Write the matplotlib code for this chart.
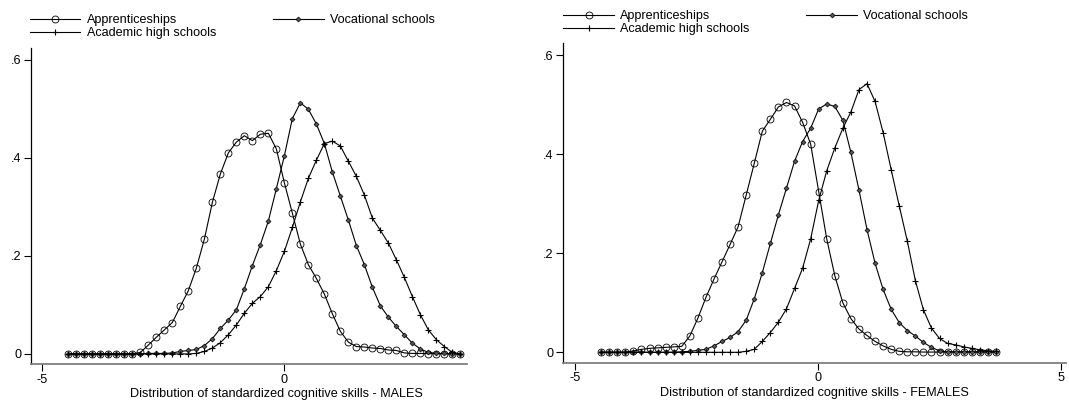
import matplotlib.pyplot as plt
import numpy as np

# kdensity grids (50 points each)
x_males = np.linspace(-4.45, 3.63, 50)
x_females = np.linspace(-4.47, 3.66, 50)

appr_males = [0, 0, 0, 0, 0, 0, 0, 0, 0,
              .003, .018, .034, .049, .064, .097, .129, .175, .234, .309, .367,
              .410, .432, .445, .435, .448, .450, .418, .349, .287, .224, .182,
              .154, .122, .082, .046, .024, .015, .014, .012, .011, .008, .007,
              .002, .001, .001, .0005, .0005, 0, 0, 0]
voc_males = [0, 0, 0, 0, 0, 0, 0, 0, 0, 0,
             .001, .001, .001, .002, .005, .007, .009, .017, .031, .052, .069,
             .090, .133, .180, .223, .271, .337, .404, .480, .512, .499, .469,
             .429, .371, .322, .273, .221, .182, .136, .098, .075, .056, .039,
             .022, .010, .003, .001, .001, .0005, 0]
acad_males = [0, 0, 0, 0, 0, 0, 0, 0, 0, 0, 0, 0, 0, 0, 0, 0,
              .001, .005, .012, .023, .039, .059, .083, .103, .117, .137, .170,
              .209, .258, .310, .358, .395, .429, .434, .424, .393, .362, .324,
              .277, .252, .226, .192, .156, .117, .080, .049, .029, .015, .003, 0]

appr_females = [0, 0, 0, 0,
                .003, .006, .008, .009, .010, .011, .012, .033, .069, .111, .148,
                .183, .218, .254, .318, .382, .447, .471, .496, .505, .498, .465,
                .421, .325, .229, .155, .100, .068, .047, .034, .022, .013, .006,
                .002, .001, .001, .0005, .0005, .0005, .0005, .0005, .0005,
                .0005, .0005, .0005, .0005]
voc_females = [0, 0, 0, 0, 0, 0, 0, 0, 0, 0,
               .001, .002, .004, .006, .013, .022, .030, .042, .065, .108, .161,
               .220, .278, .332, .386, .426, .453, .492, .502, .497, .469, .404,
               .328, .248, .180, .127, .087, .060, .044, .033, .020, .010, .003,
               .001, .001, .001, .001, .001, .001, .001]
acad_females = [0, 0, 0, 0, 0, 0, 0, 0, 0, 0, 0, 0, 0, 0, 0, 0, 0, 0,
                .002, .006, .022, .040, .061, .088, .129, .170, .229, .307, .367,
                .413, .453, .486, .531, .543, .507, .444, .369, .296, .225, .145,
                .086, .049, .028, .018, .015, .011, .008, .005, .003, .002]

labels = ["Apprenticeships", "Vocational schools", "Academic high schools"]
yticks = [0, .2, .4, .6]
yticklabels = ["0", ".2", ".4", ".6"]

plt.rcParams["font.family"] = ["Liberation Sans", "DejaVu Sans"]
fs = 9.1

fig = plt.figure(figsize=(10.69, 4.03), dpi=100)
ax1 = fig.add_axes([0.029, 0.097, 0.408, 0.784])
ax2 = fig.add_axes([0.527, 0.100, 0.470, 0.793])

lw = 0.8
styles = [
    dict(marker="o", markersize=5.0, mfc="none", mec="black", mew=0.6),
    dict(marker="D", markersize=2.5, mfc="#555555", mec="black", mew=0.5),
    dict(marker="+", markersize=5.0, mec="black", mew=0.8),
]

panels = [
    (ax1, x_males, [appr_males, voc_males, acad_males],
     "Distribution of standardized cognitive skills - MALES",
     (-5.22, 3.77), (-0.0204, 0.624), [-5, 0], 0.562, (0.028, 0.903)),
    (ax2, x_females, [appr_females, voc_females, acad_females],
     "Distribution of standardized cognitive skills - FEMALES",
     (-5.25, 5.10), (-0.021, 0.625), [-5, 0, 5], 0.5, (0.527, 0.913)),
]

for ax, x, series, xlabel, xlim, ylim, xticks, xlab_pos, leg_pos in panels:
    lines = []
    for y, lab, st in zip(series, labels, styles):
        (ln,) = ax.plot(x, y, color="black", linewidth=lw, label=lab, **st)
        lines.append(ln)

    ax.set_xlim(*xlim)
    ax.set_ylim(*ylim)
    ax.set_xticks(xticks)
    ax.set_xticklabels([str(t) for t in xticks])
    ax.set_yticks(yticks)
    ax.set_yticklabels(yticklabels)
    ax.tick_params(direction="out", length=5, width=0.8, pad=2, labelsize=fs)

    ax.spines["top"].set_visible(False)
    ax.spines["right"].set_visible(False)
    ax.spines["left"].set_linewidth(0.9)
    ax.spines["bottom"].set_linewidth(1.3)
    ax.spines["bottom"].set_color("#808080")

    ax.set_xlabel(xlabel, fontsize=fs, labelpad=1)
    ax.xaxis.set_label_coords(xlab_pos, -0.075)

    # column-wise legend: Appr / Academic in first column, Vocational in second
    ax.legend([lines[0], lines[2], lines[1]], [labels[0], labels[2], labels[1]],
              ncol=2, loc="lower left", bbox_to_anchor=leg_pos,
              bbox_transform=fig.transFigure, frameon=False, borderpad=0,
              numpoints=1, handlelength=4.0, handletextpad=0.5,
              columnspacing=4.5, labelspacing=0.05, fontsize=fs,
              borderaxespad=0)

plt.savefig("out.png", dpi=100)
